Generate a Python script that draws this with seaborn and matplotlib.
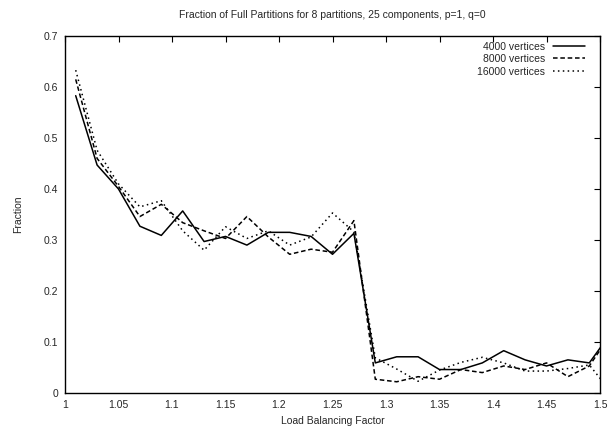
import matplotlib
matplotlib.use("Agg")
import matplotlib.pyplot as plt
import seaborn as sns
import pandas as pd
import numpy as np
from matplotlib.ticker import FixedLocator, FuncFormatter

factors = [1.01, 1.03, 1.05, 1.07, 1.09, 1.11, 1.13, 1.15, 1.17, 1.19, 1.21, 1.23, 1.25,
           1.27, 1.29, 1.31, 1.33, 1.35, 1.37, 1.39, 1.41, 1.43, 1.45, 1.47, 1.49, 1.51]

v4000 = [0.583, 0.447, 0.400, 0.327, 0.309, 0.357, 0.297, 0.307, 0.290, 0.315, 0.315, 0.307, 0.272,
         0.313, 0.059, 0.071, 0.071, 0.046, 0.046, 0.059, 0.083, 0.065, 0.053, 0.065, 0.059, 0.117]
v8000 = [0.615, 0.460, 0.405, 0.346, 0.370, 0.334, 0.318, 0.303, 0.346, 0.306, 0.272, 0.282, 0.276,
         0.338, 0.027, 0.022, 0.032, 0.027, 0.046, 0.040, 0.053, 0.046, 0.059, 0.032, 0.053, 0.115]
v16000 = [0.633, 0.476, 0.410, 0.365, 0.377, 0.318, 0.280, 0.326, 0.303, 0.318, 0.290, 0.306, 0.353,
          0.316, 0.069, 0.047, 0.023, 0.045, 0.060, 0.070, 0.059, 0.043, 0.043, 0.048, 0.055, 0.003]

series_labels = ["4000 vertices", "8000 vertices", "16000 vertices"]
x_ticks = [1, 1.05, 1.1, 1.15, 1.2, 1.25, 1.3, 1.35, 1.4, 1.45, 1.5]
y_ticks = [0, 0.1, 0.2, 0.3, 0.4, 0.5, 0.6, 0.7]

sns.set_style("white")
plt.rcParams["font.family"] = ["Liberation Sans", "DejaVu Sans"]
plt.rcParams["xtick.direction"] = "in"
plt.rcParams["ytick.direction"] = "in"

df = pd.DataFrame({
    "factor": factors * 3,
    "fraction": v4000 + v8000 + v16000,
    "series": [series_labels[0]] * len(factors) + [series_labels[1]] * len(factors) + [series_labels[2]] * len(factors),
})

fig = plt.figure(figsize=(6.08, 4.28), dpi=100)
ax = fig.add_axes([65 / 608, 1 - 393 / 428, 535 / 608, 357 / 428])

styles = {series_labels[0]: (None, None), series_labels[1]: (3.0, 1.8), series_labels[2]: (1.0, 2.2)}
for lab in series_labels:
    sub = df[df["series"] == lab]
    sns.lineplot(data=sub, x="factor", y="fraction", ax=ax, color="black",
                 linewidth=1.1, label=lab, legend=False)
for ln, lab in zip(ax.get_lines(), series_labels):
    d = styles[lab]
    if d[0] is not None:
        ln.set_dashes(d)

ax.set_xlim(1, 1.5)
ax.set_ylim(0, 0.7)
ax.xaxis.set_major_locator(FixedLocator(x_ticks))
ax.yaxis.set_major_locator(FixedLocator(y_ticks))
fmt = FuncFormatter(lambda v, p: "%g" % round(v, 4))
ax.xaxis.set_major_formatter(fmt)
ax.yaxis.set_major_formatter(fmt)
ax.tick_params(axis="both", which="major", labelsize=7.5, length=4, width=0.8,
               top=True, right=True, color="black", pad=5)
for s in ax.spines.values():
    s.set_color("black")
    s.set_linewidth(1.0)

ax.set_xlabel("Load Balancing Factor", fontsize=7.5, labelpad=4)
ax.set_ylabel("Fraction", fontsize=7.5, labelpad=15)
ax.set_title("Fraction of Full Partitions for 8 partitions, 25 components, p=1, q=0",
             fontsize=7.5, pad=13)

leg = ax.legend(loc="upper right", bbox_to_anchor=(0.985, 1.005), frameon=False, fontsize=7.5,
                markerfirst=False, handlelength=3.0, handletextpad=0.8, labelspacing=0.25,
                borderaxespad=0.3)
for t in leg.get_texts():
    t.set_ha("right")

fig.savefig("out.png", dpi=100)
